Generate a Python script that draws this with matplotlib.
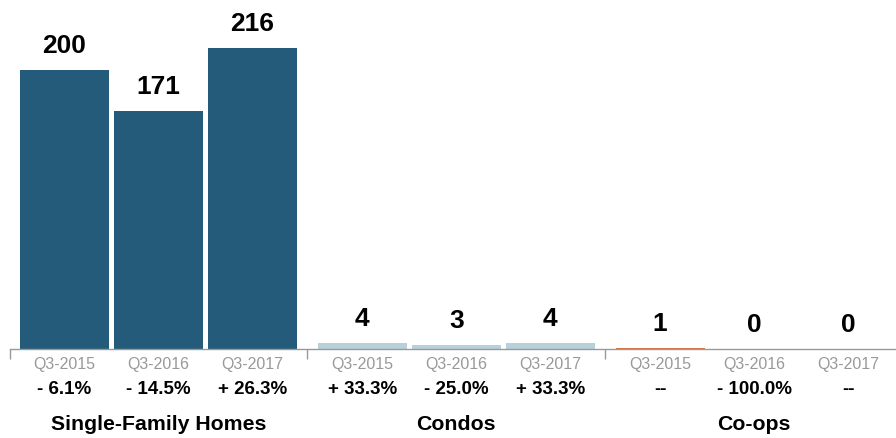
import matplotlib.pyplot as plt

# Data
groups = ['Single-Family Homes', 'Condos', 'Co-ops']
periods = ['Q3-2015', 'Q3-2016', 'Q3-2017']
sfh = [200, 171, 216]
condos = [4, 3, 4]
coops = [1, 0, 0]
sfh_change = ['- 6.1%', '- 14.5%', '+ 26.3%']
condo_change = ['+ 33.3%', '- 25.0%', '+ 33.3%']
coop_change = ['--', '- 100.0%', '--']

values = [sfh, condos, coops]
changes = [sfh_change, condo_change, coop_change]
colors = ['#245b7b', '#b8d0d9', '#e0733a']

plt.rcParams['font.family'] = ['Liberation Sans', 'DejaVu Sans']

gap = 0.17
width = 0.947
px = 0.72  # points per pixel at dpi 100

fig = plt.figure(figsize=(8.96, 4.38), dpi=100)
ax = fig.add_axes([10 / 896, 89 / 438, 886 / 896, 349 / 438])

boundaries = []
for g, grp in enumerate(groups):
    xs = [g * (3 + gap) + i for i in range(3)]
    ax.bar(xs, values[g], width=width, color=colors[g])
    for x, v, p, c in zip(xs, values[g], periods, changes[g]):
        ax.annotate(str(v), (x, v), xytext=(0, 17 * px), textcoords='offset points',
                    ha='center', va='baseline', fontsize=19, fontweight='bold')
        ax.annotate(p, (x, 0), xycoords=('data', 'axes fraction'),
                    xytext=(0, -15 * px), textcoords='offset points',
                    ha='center', va='center', fontsize=11.5, color='#999999')
        ax.annotate(c, (x, 0), xycoords=('data', 'axes fraction'),
                    xytext=(0, -40 * px), textcoords='offset points',
                    ha='center', va='center', fontsize=13.5, fontweight='bold')
    ax.annotate(grp, (xs[1], 0), xycoords=('data', 'axes fraction'),
                xytext=(0, -75 * px), textcoords='offset points',
                ha='center', va='center', fontsize=15.3, fontweight='bold')
    if g > 0:
        boundaries.append(g * (3 + gap) - (1 + gap) / 2)

ax.set_xlim(-0.58, 8.85)
ax.set_ylim(0, 250.4)
ax.set_xticks([-0.578] + boundaries)
ax.set_xticklabels([])
ax.tick_params(axis='x', length=7, color='#999999', width=1)
ax.set_yticks([])
for s in ['top', 'right', 'left']:
    ax.spines[s].set_visible(False)
ax.spines['bottom'].set_color('#999999')
ax.spines['bottom'].set_linewidth(1)

fig.savefig('out.png', dpi=100)
